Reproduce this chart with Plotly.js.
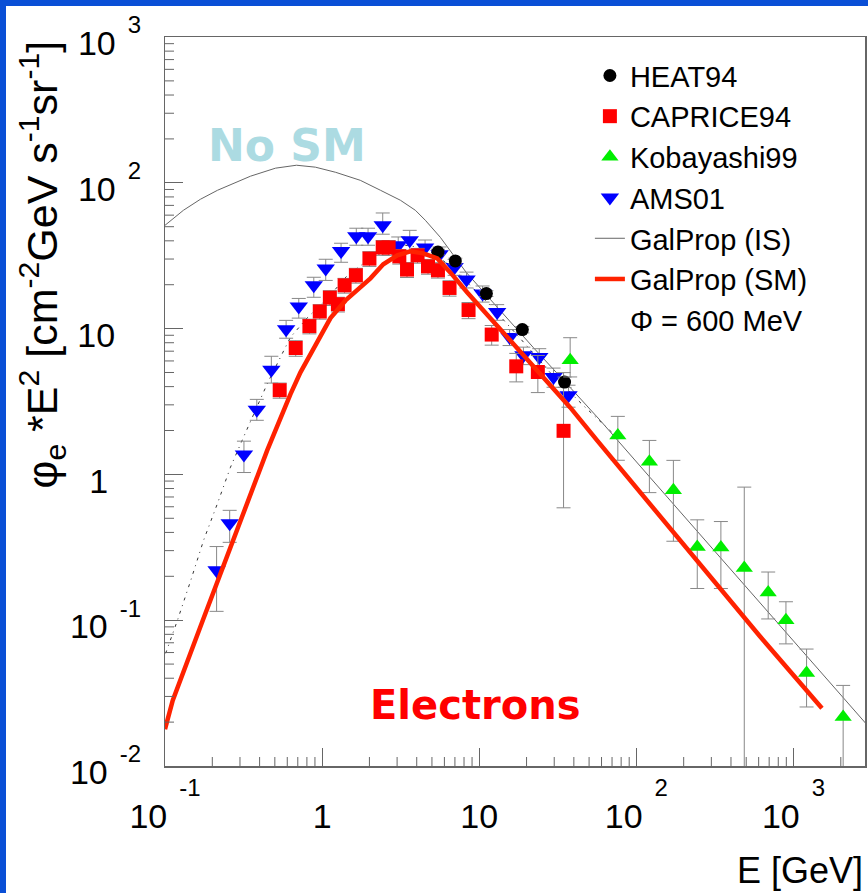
<!DOCTYPE html>
<html><head><meta charset="utf-8">
<script src="https://cdn.plot.ly/plotly-3.0.1.min.js"></script>
<style>
html,body{margin:0;padding:0;background:#0a4fd6;width:868px;height:893px;overflow:hidden}
#chart{position:absolute;left:6px;top:6px;width:862px;height:887px;background:#fff}
</style></head><body><div id="chart"></div><script>
// ---- data (E in GeV, flux*E^2) ----
const amsE = [0.213,0.258,0.318,0.384,0.475,0.590,0.710,0.885,1.054,1.32,1.65,1.96,2.43,3.05,3.61,4.52,5.59,6.97,8.30,10.5,13.0,15.6,19.1,24.1,29.7,37.0];
const amsF = [0.220,0.462,1.37,2.78,5.23,9.89,14.2,19.8,25.8,34.0,43.0,43.0,51.1,37.3,40.3,36.0,32.3,26.5,21.7,17.4,13.0,8.75,6.56,6.38,4.66,3.49];
const amsUp = [0.10,0.105,0.32,0.49,1.23,1.5,1.9,2.7,4.1,4.5,5.8,5.8,11,5.2,6.9,4.5,4.0,3.3,2.7,2.2,1.6,1.1,0.9,0.9,0.7,0.6];
const amsDn = [0.105,0.12,0.34,0.43,1.0,1.3,2.4,3.4,4.4,5.5,5.7,5.7,6.7,5.0,6.0,4.5,4.0,3.3,2.7,2.2,1.6,1.1,0.9,0.9,0.7,0.6];

const capE = [0.537,0.679,0.830,0.966,1.12,1.26,1.39,1.64,2.00,2.43,2.65,3.10,3.47,4.05,4.72,5.46,6.47,8.55,12.0,17.2,23.6,34.4];
const capF = [3.78,7.36,10.4,13.1,16.3,14.7,19.8,23.2,30.2,36.0,36.0,31.3,25.4,31.8,26.7,25.1,19.0,13.4,9.10,5.51,5.04,1.99];
const capUp = [0.45,0.9,1.2,1.5,1.9,1.7,2.3,2.7,3.5,4.2,4.2,3.6,3.0,3.7,3.1,2.9,2.3,1.7,1.4,1.25,1.5,3.0];
const capDn = [0.45,0.9,1.2,1.5,1.9,1.7,2.3,2.7,3.5,4.2,4.2,3.6,3.0,3.7,3.1,2.9,2.3,1.7,1.4,1.2,1.4,1.4];

const heatE = [5.46,7.04,11.1,18.8,34.9];
const heatF = [33.5,29.1,17.4,9.84,4.30];
const heatErr = [1.5,1.3,0.8,0.5,0.35];

const kobE = [37.9,76.2,121,172,244,345,486,690,895,1211,2070];
const kobF = [6.06,1.85,1.22,0.778,0.318,0.315,0.228,0.155,0.0998,0.0434,0.0217];
const kobUp = [2.6,0.65,0.49,0.47,0.17,0.16,0.59,0.059,0.034,0.020,0.014];
const kobDn = [1.4,0.6,0.47,0.43,0.153,0.15,0.2279,0.053,0.031,0.018,0.0216];

const isE = [0.1,0.131,0.168,0.216,0.350,0.505,0.687,0.906,1.22,1.75,2.35,3.15,3.92,4.54,5.65,8.26,13.6,22.0,36.3,58.8,122,254,528,1099,2884];
const isF = [51.1,64.8,77.1,88.9,111,126,132,128,118,104,88.9,75.9,64.8,55.3,42.3,24.3,13.3,7.45,4.15,2.35,0.955,0.388,0.158,0.0641,0.0196];

const smE = [0.1,0.112,0.176,0.303,0.447,0.628,0.728,0.906,1.13,1.41,1.68,2.03,2.45,3.01,3.64,4.41,5.41,6.54,8.39,11.7,14.2,23.4,37.9,56.2,122,254,611,1517];
const smF = [0.0179,0.0282,0.103,0.477,1.46,3.54,5.01,7.68,11.8,15.6,18.3,22.1,27.6,31.8,33.9,32.8,30.3,24.3,17.7,11.8,9.57,5.18,2.88,1.71,0.624,0.245,0.0776,0.0249];

const dotE = [0.101,0.120,0.146,0.176,0.216,0.261,0.316,0.377,0.449,0.628,0.807,1.08,1.45,1.88,2.53,3.39,4.54,6.08,8.15,11.7,18.2,28.2,45.8,75.3];
const dotF = [0.0593,0.0998,0.188,0.353,0.634,1.12,1.80,2.75,4.22,8.71,11.9,16.1,23.2,28.5,34.4,37.3,35.6,28.5,21.4,14.5,8.58,5.01,2.98,1.80];

const seriesNames = ['HEAT94','CAPRICE94','Kobayashi99','AMS01','GalProp (IS)','GalProp (SM)','\u03A6 = 600 MeV'];

const xTickVals = [0.1,1,10,100,1000];
const xTickBase = ['10','1','10','10','10'];
const xTickExp  = ['-1','','','2','3'];
const yTickVals = [0.01,0.1,1,10,100,1000];
const yTickBase = ['10','10','1','10','10','10'];
const yTickExp  = ['-2','-1','','','2','3'];

// ---- helpers ----
function fmtTick(base, exp, pad){
  let s = '<span style="font-size:34px">' + base + '</span>';
  if (exp) s += '<sup><span style="font-size:24px">\u2002' + exp + '</span></sup>';
  else if (pad) s += '<span style="font-size:' + pad + 'px">\u2003</span>';
  return s;
}
const xTickText = xTickBase.map((b,i)=>fmtTick(b, xTickExp[i], 0));
const yTickText = yTickBase.map((b,i)=>fmtTick(b, yTickExp[i], b === '1' ? 33 : 26));

// minor log ticks (2..9 x each decade)
function minorTicks(lo, hi){
  const out = [];
  for (let d = lo; d <= hi; d++) for (let m = 2; m <= 9; m++) out.push(m * Math.pow(10, d));
  return out;
}

const errStyle = (up, dn) => ({type:'data', symmetric:false, array:up, arrayminus:dn, color:'#888', thickness:1, width:7});

const traces = [
  {x:dotE, y:dotF, mode:'lines', line:{color:'#333', width:1, dash:'3px,5px,1px,5px'}, showlegend:false, hoverinfo:'skip'},
  {x:isE, y:isF, name:seriesNames[4], legendrank:5, mode:'lines', line:{color:'#666', width:1}},
  {x:amsE, y:amsF, name:seriesNames[3], legendrank:4, mode:'markers', marker:{symbol:'triangle-down', size:16, color:'#0000ff'}, error_y:errStyle(amsUp, amsDn)},
  {x:capE, y:capF, name:seriesNames[1], legendrank:2, mode:'markers', marker:{symbol:'square', size:14, color:'#ff0000'}, error_y:errStyle(capUp, capDn)},
  {x:heatE, y:heatF, name:seriesNames[0], legendrank:1, mode:'markers', marker:{symbol:'circle', size:13, color:'#000000'}, error_y:errStyle(heatErr, heatErr)},
  {x:kobE, y:kobF, name:seriesNames[2], legendrank:3, mode:'markers', marker:{symbol:'triangle-up', size:15, color:'#00ee00'}, error_y:errStyle(kobUp, kobDn)},
  {x:smE, y:smF, name:seriesNames[5], legendrank:6, mode:'lines', line:{color:'#ff2200', width:4.5}},
  {x:[null], y:[null], name:seriesNames[6], legendrank:7, mode:'lines', line:{color:'rgba(0,0,0,0)', width:0}}
];

const xRange = [-1, 3.455], yRange = [-2, 3];
const axisCommon = {
  type:'log', showgrid:false, zeroline:false, showline:true, linecolor:'#666', linewidth:1.5, mirror:true,
  ticks:'inside', ticklen:18, tickwidth:1.2, tickcolor:'#666', tickmode:'array', automargin:false
};

// minor tick marks drawn along the axes (log-axis data positions)
const minorShapes = [];
minorTicks(-1, 3).forEach(v => minorShapes.push({type:'line', xref:'x', yref:'paper', x0:v, x1:v, y0:0, y1:9/729, line:{color:'#666', width:1}}));
minorTicks(-2, 2).forEach(v => minorShapes.push({type:'line', xref:'paper', yref:'y', x0:0, x1:9/700, y0:v, y1:v, line:{color:'#666', width:1}}));

const layout = {
  width:862, height:887,
  margin:{l:159, r:3, t:31, b:127},
  paper_bgcolor:'#ffffff', plot_bgcolor:'#ffffff',
  font:{family:'Liberation Sans, Arial, sans-serif', color:'#000'},
  xaxis:Object.assign({}, axisCommon, {range:xRange, tickvals:xTickVals, ticktext:xTickText,
    tickfont:{size:76, color:'#000', family:'Liberation Sans'}, ticklabelstandoff:-31}),
  yaxis:Object.assign({}, axisCommon, {range:yRange, tickvals:yTickVals, ticktext:yTickText,
    tickfont:{size:52, color:'#000', family:'Liberation Sans'}, ticklabelstandoff:12}),
  shapes:minorShapes,
  showlegend:true,
  legend:{x:0.607, y:0.982, xanchor:'left', yanchor:'top', bgcolor:'rgba(0,0,0,0)', borderwidth:0,
    font:{size:29, family:'Liberation Sans', color:'#000'}, traceorder:'normal'},
  annotations:[
    {text:'\u03C6<sub>e</sub> *E<sup>2</sup> [cm<sup>-2</sup>GeV s<sup>-1</sup>sr<sup>-1</sup>]', textangle:-90,
     xref:'paper', yref:'paper', x:-0.1757, y:0.998, xanchor:'center', yanchor:'top', showarrow:false,
     font:{size:43, family:'Liberation Sans', color:'#000'}},
    {text:'E [GeV]', xref:'paper', yref:'paper', x:1.0, y:-0.143, xanchor:'right', yanchor:'middle', showarrow:false,
     font:{size:36, family:'Liberation Sans', color:'#000'}},
    {text:'<b>No SM</b>', xref:'x', yref:'y', x:-0.221, y:2.257, showarrow:false,
     font:{size:44, family:'DejaVu Sans', color:'#acdbe2'}},
    {text:'<b>Electrons</b>', xref:'x', yref:'y', x:0.975, y:-1.584, showarrow:false,
     font:{size:40, family:'DejaVu Sans', color:'#ff0000'}}
  ]
};

Plotly.newPlot('chart', traces, layout, {staticPlot:true, displayModeBar:false});
</script></body></html>
